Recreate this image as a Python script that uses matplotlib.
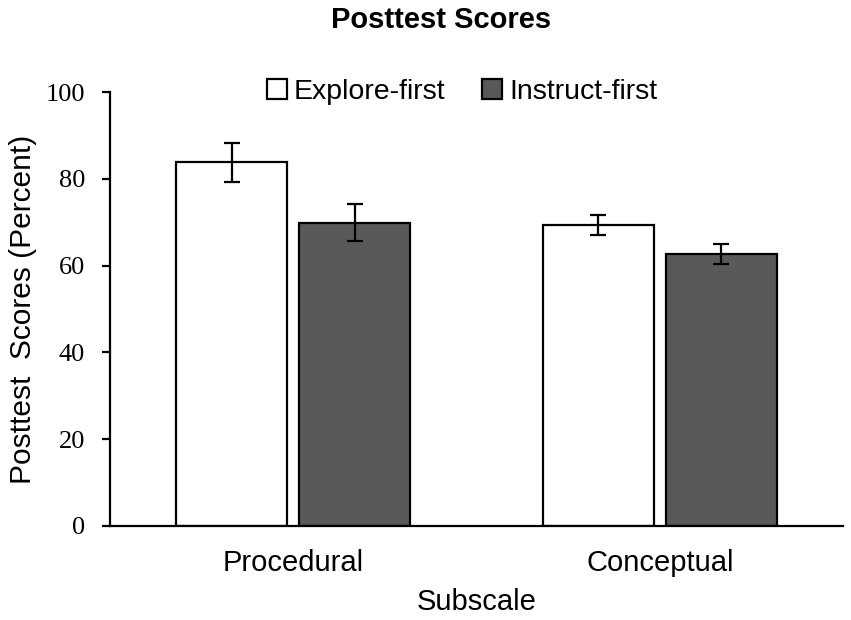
import matplotlib
matplotlib.use('Agg')
import matplotlib.pyplot as plt
import numpy as np

plt.rcParams['font.family'] = ['Liberation Sans', 'DejaVu Sans']

subscales = ['Procedural', 'Conceptual']
groups = ['Explore-first', 'Instruct-first']
explore_mean = [83.8, 69.3]
explore_err = [4.5, 2.3]
instruct_mean = [69.9, 62.7]
instruct_err = [4.3, 2.3]
yticks = [0, 20, 40, 60, 80, 100]

fig = plt.figure(figsize=(8.51, 6.2), dpi=100)
ax = fig.add_axes([0.1293, 0.152, 0.8613, 0.6995])

x = np.arange(len(subscales))
width = 0.303
off = 0.168
err_kw = dict(ecolor='black', elinewidth=1.6, capsize=6, capthick=1.6)
ax.bar(x - off, explore_mean, width=width, yerr=explore_err, color='white',
       edgecolor='black', linewidth=1.6, label=groups[0], error_kw=err_kw)
ax.bar(x + off, instruct_mean, width=width, yerr=instruct_err, color='#595959',
       edgecolor='black', linewidth=1.6, label=groups[1], error_kw=err_kw)

ax.set_xlim(-0.5, 1.5)
ax.set_ylim(0, 100)
ax.set_yticks(yticks)
ax.set_yticklabels([str(t) for t in yticks], family='Liberation Serif', fontsize=19)
ax.set_xticks(x)
ax.set_xticklabels(subscales, fontsize=21)
ax.tick_params(axis='x', length=0, pad=17)
ax.tick_params(axis='y', length=6, width=1.6, pad=12)
for s in ['top', 'right']:
    ax.spines[s].set_visible(False)
for s in ['left', 'bottom']:
    ax.spines[s].set_linewidth(1.6)

ax.set_xlabel('Subscale', fontsize=21, labelpad=8)
ax.set_ylabel('Posttest  Scores (Percent)', fontsize=21.5, labelpad=6)
fig.suptitle('Posttest Scores', fontsize=21, fontweight='bold', x=0.518, y=0.99)

ax.legend(loc='center', bbox_to_anchor=(0.543, 0.852), bbox_transform=fig.transFigure,
          ncol=2, frameon=False, fontsize=20.5, handlelength=0.7, handleheight=0.7,
          handletextpad=0.25, columnspacing=1.3)

fig.savefig('out.png', dpi=100)
